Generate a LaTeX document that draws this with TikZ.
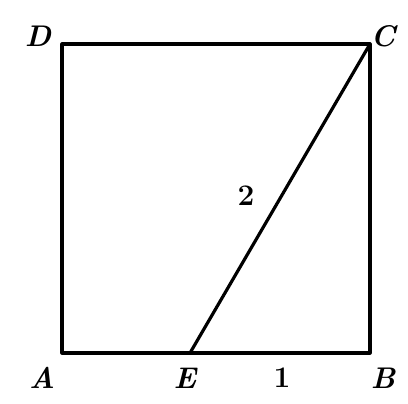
\documentclass[tikz,border=0pt]{standalone}
\usepackage{tikz}
\usetikzlibrary{positioning}
\tikzset{
    x=1bp, y=-1bp, % work in picture pixels
    edge line/.style={line width=3.2pt, line cap=round, line join=round},
    pt label/.style={font=\fontsize{30}{32}\selectfont\bfseries\itshape, inner sep=0pt},
    len label/.style={font=\fontsize{30}{32}\selectfont\bfseries, inner sep=0pt}
}
\begin{document}
\begin{tikzpicture}
    \useasboundingbox (0,0) rectangle (408,404);
    \coordinate (A) at (62,353);
    \coordinate (B) at (370,353);
    \coordinate (C) at (370,44);
    \coordinate (D) at (62,44);
    \coordinate (E) at (190,353);
    % square and slanted side
    \draw[edge line] (A) -- (B) -- (C) -- (D) -- cycle;
    \draw[edge line] (E) -- (C);
    % corner names
    \node[pt label] (lA) at (42,378) {A};
    \node[pt label] (lB) at (383,378) {B};
    \node[pt label] (lC) at (383,36) {C};
    \node[pt label] (lD) at (38,36) {D};
    \node[pt label] (lE) at (185,378) {E};
    % lengths
    \node[len label] (one) at (282,378) {1};
    \node[len label] (two) at (246,196) {2};
\end{tikzpicture}
\end{document}
